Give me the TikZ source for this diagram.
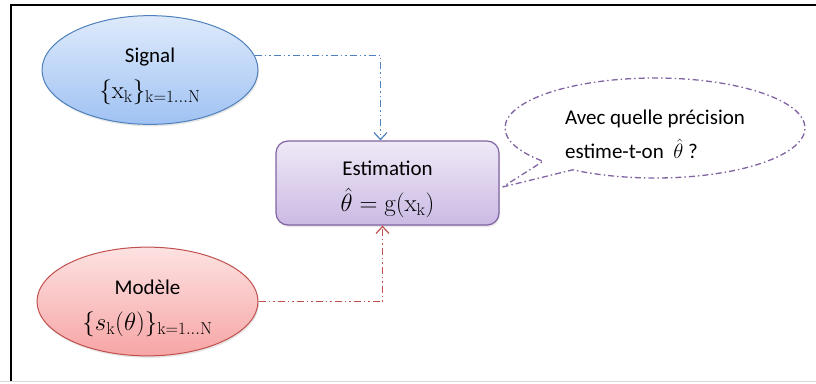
\documentclass[tikz,border=0pt]{standalone}
\usepackage[no-math]{fontspec}
\setmainfont{Carlito}
\usepackage{amsmath}
\usetikzlibrary{arrows.meta,shapes.geometric,shapes.callouts,shadows}

\definecolor{sigblue}{RGB}{79,129,189}
\definecolor{sigtop}{RGB}{222,234,251}
\definecolor{sigbot}{RGB}{160,194,243}
\definecolor{modred}{RGB}{192,80,77}
\definecolor{modtop}{RGB}{253,226,226}
\definecolor{modbot}{RGB}{247,165,165}
\definecolor{estviolet}{RGB}{128,100,162}
\definecolor{esttop}{RGB}{239,233,247}
\definecolor{estbot}{RGB}{203,186,228}

\newcommand{\eqsize}{\fontsize{23}{27}\selectfont}
\newcommand{\topgap}{\rule{0pt}{28pt}}

\begin{document}
\begin{tikzpicture}[x=1pt,y=-1pt,>={Straight Barb[length=7pt,width=13pt]},
                    font=\fontsize{21}{25}\selectfont]
  \tikzstyle{source}=[ellipse,draw,line width=1pt,align=center,
                      drop shadow={opacity=0.2,shadow xshift=1pt,shadow yshift=-2pt}]
  \tikzstyle{estbox}=[rectangle,rounded corners=12pt,draw=estviolet,line width=1.2pt,
                      align=center,top color=esttop,bottom color=estbot,
                      drop shadow={opacity=0.2,shadow xshift=1pt,shadow yshift=-2pt}]
  \tikzstyle{link}=[->,line width=1.2pt,
                    dash pattern=on 7pt off 3pt on 1.5pt off 3pt on 1.5pt off 3pt]

  \useasboundingbox (0,0) rectangle (816,383);
  \draw[line width=1.8pt] (11,381) -- (11,5) -- (816,5);
  \draw[black!15,line width=1.5pt] (0,381.5) -- (816,381.5);

  \node[source,draw=sigblue,top color=sigtop,bottom color=sigbot,
        minimum width=216pt,minimum height=97pt] (sig) at (150,70)
        {\topgap Signal\\[11pt]{\eqsize$\{\mathrm{x}_\mathrm{k}\}_{\mathrm{k}=1\ldots\mathrm{N}}$}};
  \node[source,draw=modred,top color=modtop,bottom color=modbot,
        minimum width=221pt,minimum height=103pt] (mod) at (147.5,301.5)
        {\topgap Modèle\\[11pt]{\eqsize$\{s_\mathrm{k}(\theta)\}_{\mathrm{k}=1\ldots\mathrm{N}}$}};
  \node[estbox,minimum width=223pt,minimum height=84pt] (est) at (387.5,183)
        {\topgap Estimation\\[11pt]{\eqsize$\hat{\theta}=\mathrm{g}(\mathrm{x}_\mathrm{k})$}};
  \node[ellipse callout,draw=estviolet,line width=1.3pt,
        dash pattern=on 6pt off 3pt on 1.5pt off 3pt,
        minimum width=300pt,minimum height=100pt,align=left,
        callout absolute pointer={([xshift=3pt,yshift=-4pt]est.east)}] (ask) at (655,128)
        {\topgap Avec quelle précision\\[9pt]estime-t-on \ $\hat{\theta}$ ?};

  \draw[link,sigblue] (sig.8) -| ([xshift=-7pt]est.north);
  \draw[link,modred] (mod.east) -| ([xshift=-5pt]est.south);
\end{tikzpicture}
\end{document}
